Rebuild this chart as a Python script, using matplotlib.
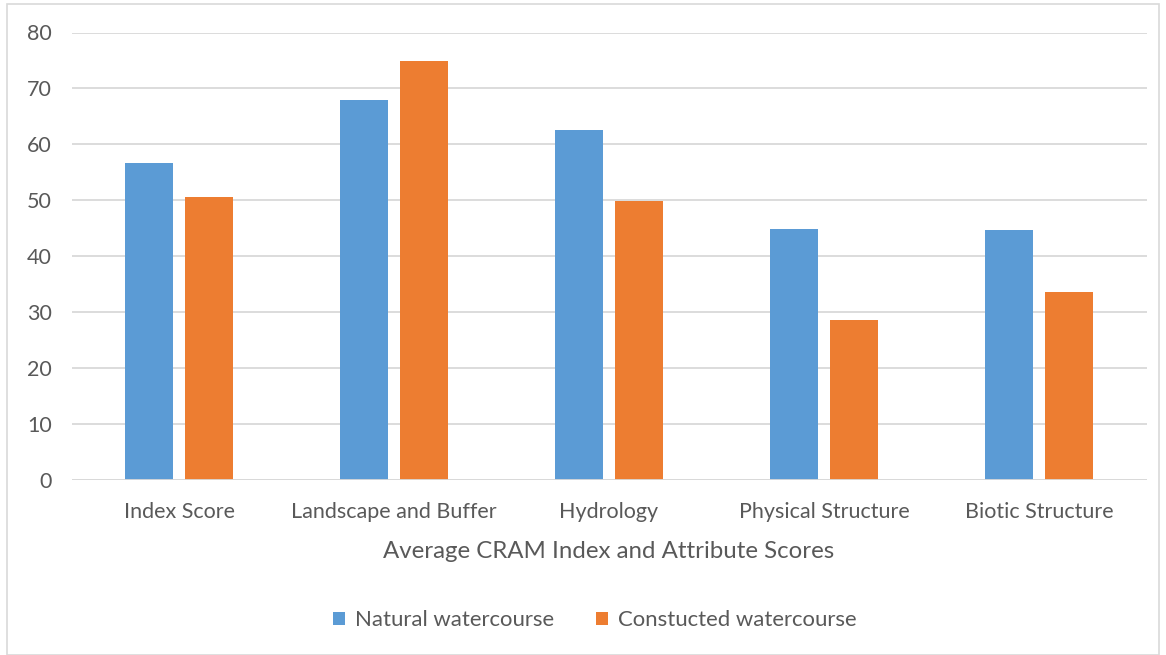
import matplotlib
matplotlib.use("Agg")
import matplotlib.pyplot as plt
import numpy as np
from matplotlib.patches import Rectangle

categories = ["Index Score", "Landscape and Buffer", "Hydrology", "Physical Structure", "Biotic Structure"]
natural = [56.6, 68.0, 62.5, 44.9, 44.7]
constructed = [50.6, 74.9, 49.8, 28.5, 33.5]
series_names = ["Natural watercourse", "Constucted watercourse"]
yticks = [0, 10, 20, 30, 40, 50, 60, 70, 80]

plt.rcParams['font.family'] = ['Lato', 'DejaVu Sans']
txt = '#595959'

fig = plt.figure(figsize=(11.66, 6.55), dpi=100)
W, H = 1166, 655
ax = fig.add_axes([71.5 / W, 1 - 479.5 / H, 1075 / W, 447 / H])

x = np.arange(len(categories))
bw = 0.223
off = 0.141
ax.bar(x - off, natural, bw, color='#5B9BD5', label=series_names[0], zorder=3)
ax.bar(x + off, constructed, bw, color='#ED7D31', label=series_names[1], zorder=3)

ax.set_xlim(-0.5, len(categories) - 0.5)
ax.set_ylim(0, 80)
ax.set_yticks(yticks)
ax.set_xticks(x)
ax.set_xticklabels(categories)
ax.tick_params(axis='both', length=0, colors=txt, labelsize=15.5)
ax.tick_params(axis='x', pad=16.5)
ax.tick_params(axis='y', pad=14)
ax.grid(axis='y', color='#D9D9D9', linewidth=1.3, zorder=0)
for s in ax.spines.values():
    s.set_visible(False)
ax.axhline(0, color='#D9D9D9', linewidth=1.3, zorder=4)
ax.set_xlabel("Average CRAM Index and Attribute Scores", color=txt, fontsize=17.3, labelpad=13.5)

leg = fig.legend(loc='center', bbox_to_anchor=(595 / W, 1 - 620 / H), ncol=2, frameon=False,
                 fontsize=15.9, handlelength=0.55, handleheight=0.55, handletextpad=0.45, columnspacing=1.9)
for t in leg.get_texts():
    t.set_color(txt)

fig.patches.append(Rectangle((7 / W, 0), 1 - 14 / W, 1 - 4 / H, transform=fig.transFigure,
                             fill=False, edgecolor='#D9D9D9', linewidth=1.2))

fig.savefig("out.png", dpi=100, facecolor='white')
